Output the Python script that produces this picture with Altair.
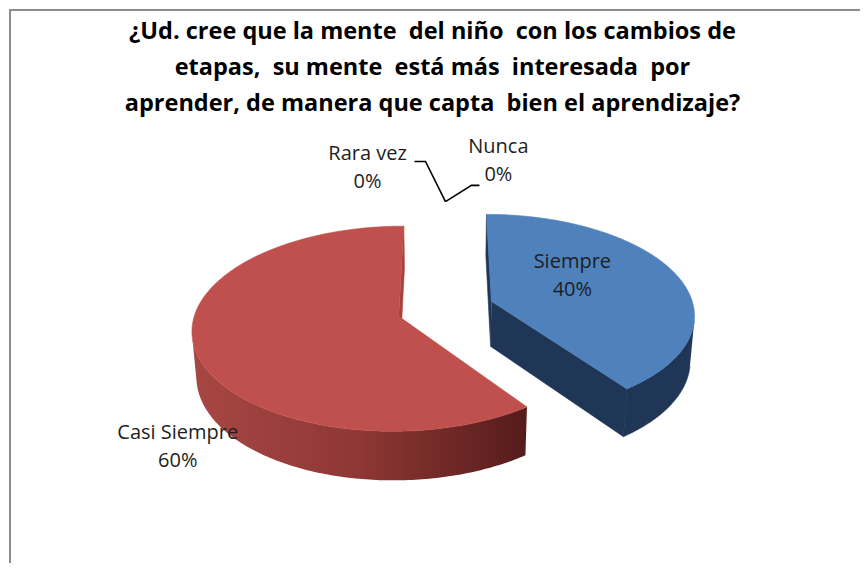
import numpy as np
import pandas as pd
import altair as alt

# ---------------- data ----------------
categories = ["Siempre", "Casi Siempre", "Rara vez", "Nunca"]
percents = [40, 60, 0, 0]
NB = "\u00a0"
title_lines = [
    f"¿Ud. cree que la mente {NB}del niño {NB}con los cambios de",
    f"etapas, {NB}su mente {NB}está más {NB}interesada {NB}por",
    f"aprender, de manera que capta {NB}bien el aprendizaje?",
]

# ---------------- layout / style ----------------
W, H = 852, 555                # chart size (page offset 8px)
CX, CY = 446, 309              # projected pie centre (page px)
ALPHA = np.radians(29.4)       # elevation of the 3-D view
DIST = 7.3                     # camera distance (in pie radii)
FOCAL = 203 * DIST             # focal length -> ~203 px per radius
EXPLODE = 0.24                 # explosion (in radii)
DEPTH = 0.26                   # pie thickness (in radii)

top_color = {"Siempre": "#4f81bd", "Casi Siempre": "#c0504d"}
side_color = {"Siempre": "#1f3656", "Casi Siempre": "#8a3431"}
radial_color = {"Siempre": "#2b4669", "Casi Siempre": "#a8423f"}
red_rim = alt.Gradient(
    gradient="linear",
    stops=[alt.GradientStop(color="#a84744", offset=0),
           alt.GradientStop(color="#8e3734", offset=0.5),
           alt.GradientStop(color="#551c1b", offset=1)],
    x1=0, x2=1, y1=0, y2=0,
)
label_pos = {  # centre of the first line of each label (page px)
    "Siempre": (573, 262),
    "Casi Siempre": (178, 434),
    "Rara vez": (368, 154),
    "Nunca": (499, 147),
}
leader_elbows = {
    "Rara vez": [(415, 161), (426, 161)],
    "Nunca": [(480, 185), (472, 185)],
}

SA, CA = np.sin(ALPHA), np.cos(ALPHA)
CAM = np.array([0.0, DIST * SA, DIST * CA])


def project(X, Y, Z):
    yc = Y * CA - Z * SA
    d = DIST - (Z * CA + Y * SA)
    return CX + FOCAL * X / d, CY - FOCAL * yc / d


# ---------------- build faces from the values ----------------
starts = np.concatenate([[0], np.cumsum(percents)[:-1]]) * 3.6
ends = starts + np.array(percents) * 3.6

faces = []   # (depth, slice_order, kind, category, points)
anchor = None
for cat, p, a, b in zip(categories, percents, starts, ends):
    m = np.radians((a + b) / 2)
    ex, ez = EXPLODE * np.sin(m), -EXPLODE * np.cos(m)
    if p == 0:
        if anchor is None:
            anchor = project(ex + np.sin(np.radians(a)), 0.0, ez - np.cos(np.radians(a)))
        continue

    def rim(t, Y):
        t = np.radians(t)
        return (ex + np.sin(t), Y, ez - np.cos(t))

    V = np.array([ex, 0.0, ez])
    Vb = np.array([ex, -DEPTH, ez])
    vdepth = DIST - (ez * CA)
    thetas = np.linspace(a, b, int(p * 4) + 2)

    # radial faces
    for t, sign in ((a, -1), (b, 1)):
        tr = np.radians(t)
        n = sign * np.array([np.cos(tr), 0.0, np.sin(tr)])
        if n @ (CAM - V) > 0:
            pts = [tuple(V), rim(t, 0.0), rim(t, -DEPTH), tuple(Vb)]
            faces.append((vdepth, 0, "radial", cat, [project(*q) for q in pts]))

    # outer rim (visible part)
    vis = []
    for t in thetas:
        tr = np.radians(t)
        P = np.array(rim(t, 0.0))
        n = np.array([np.sin(tr), 0.0, -np.cos(tr)])
        if n @ (CAM - P) > 0:
            vis.append(t)
    if len(vis) > 1:
        pts = [rim(t, 0.0) for t in vis] + [rim(t, -DEPTH) for t in vis[::-1]]
        faces.append((vdepth, 1, "rim", cat, [project(*q) for q in pts]))

    # top face
    pts = [tuple(V)] + [rim(t, 0.0) for t in thetas]
    faces.append((vdepth, 2, "top", cat, [project(*q) for q in pts]))

faces.sort(key=lambda f: (-f[0], f[1]))

rows = []
for k, (_, _, kind, cat, pts) in enumerate(faces):
    for i, (x, y) in enumerate(pts):
        rows.append({"face": k, "i": i, "x": x, "y": y})
df = pd.DataFrame(rows)

xs = alt.Scale(domain=[8, 8 + W], nice=False, zero=False)
ys = alt.Scale(domain=[8, 8 + H], nice=False, zero=False, reverse=True)

layers = []
# frame
layers.append(alt.Chart(pd.DataFrame({"a": [0]})).mark_rule(color="#8c8c8c", strokeWidth=2).encode(
    x=alt.value(2), y=alt.value(0), y2=alt.value(H)))
layers.append(alt.Chart(pd.DataFrame({"a": [0]})).mark_rule(color="#8c8c8c", strokeWidth=2).encode(
    x=alt.value(2), x2=alt.value(W), y=alt.value(1)))

for k, (_, _, kind, cat, pts) in enumerate(faces):
    if kind == "top":
        mk = dict(fill=top_color[cat], stroke=top_color[cat], strokeWidth=0.6)
    elif kind == "rim":
        if cat == "Casi Siempre":
            mk = dict(fill=red_rim, strokeWidth=0)
        else:
            mk = dict(fill=side_color[cat], stroke=side_color[cat], strokeWidth=0.6)
    else:
        c = side_color[cat] if cat == "Siempre" else radial_color[cat]
        mk = dict(fill=c, stroke=c, strokeWidth=0.6)
    layers.append(
        alt.Chart(df).transform_filter(alt.datum.face == k).mark_line(**mk).encode(
            x=alt.X("x:Q", scale=xs, axis=None),
            y=alt.Y("y:Q", scale=ys, axis=None),
            order=alt.Order("i:Q"),
        )
    )

# leader lines for the 0% slices
lrows = []
for cat, pts in leader_elbows.items():
    seq = pts + [anchor]
    for i, (x, y) in enumerate(seq):
        lrows.append({"cat": cat, "i": i, "x": x, "y": y})
layers.append(
    alt.Chart(pd.DataFrame(lrows)).mark_line(color="#000000", strokeWidth=1.6).encode(
        x=alt.X("x:Q", scale=xs, axis=None),
        y=alt.Y("y:Q", scale=ys, axis=None),
        detail="cat:N",
        order=alt.Order("i:Q"),
    )
)

# data labels
lab = pd.DataFrame({
    "x": [label_pos[c][0] for c in categories],
    "y": [label_pos[c][1] for c in categories],
    "txt": [[c, f"{p}%"] for c, p in zip(categories, percents)],
})
layers.append(
    alt.Chart(lab).mark_text(font="Open Sans", fontSize=20, color="#1e1e1e", lineHeight=28,
                             align="center", baseline="middle").encode(
        x=alt.X("x:Q", scale=xs, axis=None),
        y=alt.Y("y:Q", scale=ys, axis=None),
        text="txt",
    )
)

# title
layers.append(
    alt.Chart(pd.DataFrame({"x": [433], "y": [31], "t": [title_lines]})).mark_text(
        font="Open Sans", fontSize=23.5, fontWeight="bold", color="#000000", lineHeight=36,
        align="center", baseline="middle").encode(
        x=alt.X("x:Q", scale=xs, axis=None),
        y=alt.Y("y:Q", scale=ys, axis=None),
        text="t",
    )
)

chart = alt.layer(*layers).properties(
    width=W, height=H, padding=0,
    autosize=alt.AutoSizeParams(type="fit", contains="padding"),
).configure_view(stroke=None)

chart.save("out.html", embed_options={"renderer": "svg", "actions": False})
